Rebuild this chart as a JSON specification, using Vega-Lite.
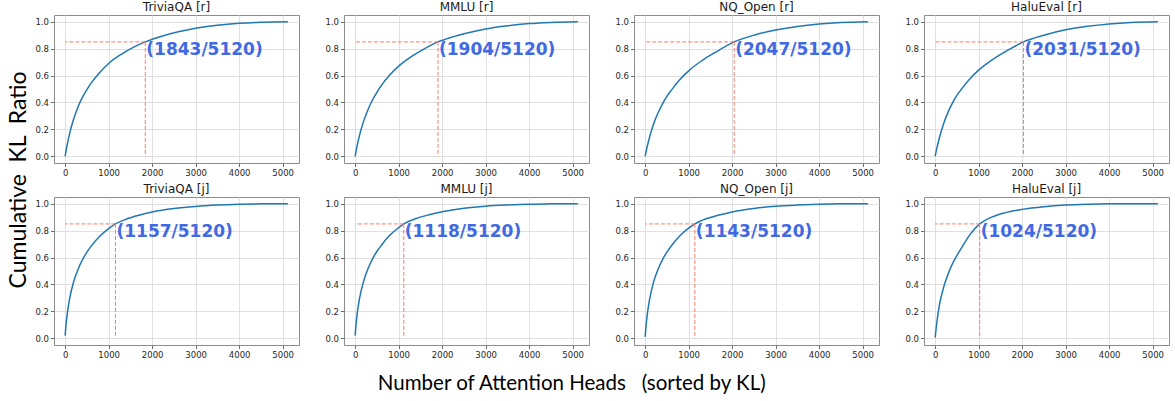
{
  "$schema": "https://vega.github.io/schema/vega-lite/v6.json",
  "background": "white",
  "padding": {"left": 7, "top": 0, "right": 0, "bottom": 5},
  "title": {"text": "Number of Attention Heads\u00a0\u00a0\u00a0(sorted by KL)", "orient": "bottom", "anchor": "middle", "font": "Lato", "fontSize": 20.5, "fontWeight": "normal", "color": "#000000", "offset": 14, "dx": -17},
  "config": {
    "view": {"stroke": "#8c8c8c", "strokeWidth": 1},
    "axis": {"domain": false, "grid": true, "gridColor": "#dcdcdc", "gridWidth": 0.9, "tickColor": "#444444", "tickSize": 3.5, "tickWidth": 0.8, "labelFont": "DejaVu Sans", "labelFontSize": 8.5, "labelColor": "#262626", "labelPadding": 2, "title": null, "tickCount": 12, "labelOverlap": false},
    "header": {"labelFont": "DejaVu Sans", "labelFontSize": 12, "labelColor": "#1a1a1a", "labelPadding": 1, "titleFont": "Lato", "titleFontSize": 23, "titleFontWeight": "normal", "titleColor": "#000000", "titleOrient": "left", "labelOrient": "top", "titlePadding": 23}
  },
  "data": {"values": [
    {"p": "TriviaQA [r]", "x": 0, "y": 0}, {"p": "TriviaQA [r]", "x": 50, "y": 0.09}, {"p": "TriviaQA [r]", "x": 100, "y": 0.165}, {"p": "TriviaQA [r]", "x": 200, "y": 0.28}, {"p": "TriviaQA [r]", "x": 300, "y": 0.37}, {"p": "TriviaQA [r]", "x": 400, "y": 0.44}, {"p": "TriviaQA [r]", "x": 500, "y": 0.495}, {"p": "TriviaQA [r]", "x": 600, "y": 0.545}, {"p": "TriviaQA [r]", "x": 800, "y": 0.625}, {"p": "TriviaQA [r]", "x": 1000, "y": 0.69}, {"p": "TriviaQA [r]", "x": 1300, "y": 0.76}, {"p": "TriviaQA [r]", "x": 1600, "y": 0.815}, {"p": "TriviaQA [r]", "x": 1843, "y": 0.85}, {"p": "TriviaQA [r]", "x": 2200, "y": 0.89}, {"p": "TriviaQA [r]", "x": 2600, "y": 0.925}, {"p": "TriviaQA [r]", "x": 3000, "y": 0.952}, {"p": "TriviaQA [r]", "x": 3500, "y": 0.974}, {"p": "TriviaQA [r]", "x": 4000, "y": 0.988}, {"p": "TriviaQA [r]", "x": 4500, "y": 0.996}, {"p": "TriviaQA [r]", "x": 5120, "y": 1.0},
    {"p": "MMLU [r]", "x": 0, "y": 0}, {"p": "MMLU [r]", "x": 50, "y": 0.085}, {"p": "MMLU [r]", "x": 100, "y": 0.155}, {"p": "MMLU [r]", "x": 200, "y": 0.265}, {"p": "MMLU [r]", "x": 300, "y": 0.35}, {"p": "MMLU [r]", "x": 400, "y": 0.42}, {"p": "MMLU [r]", "x": 500, "y": 0.475}, {"p": "MMLU [r]", "x": 600, "y": 0.525}, {"p": "MMLU [r]", "x": 800, "y": 0.605}, {"p": "MMLU [r]", "x": 1000, "y": 0.67}, {"p": "MMLU [r]", "x": 1300, "y": 0.743}, {"p": "MMLU [r]", "x": 1600, "y": 0.8}, {"p": "MMLU [r]", "x": 1904, "y": 0.85}, {"p": "MMLU [r]", "x": 2200, "y": 0.883}, {"p": "MMLU [r]", "x": 2600, "y": 0.918}, {"p": "MMLU [r]", "x": 3000, "y": 0.946}, {"p": "MMLU [r]", "x": 3500, "y": 0.97}, {"p": "MMLU [r]", "x": 4000, "y": 0.986}, {"p": "MMLU [r]", "x": 4500, "y": 0.995}, {"p": "MMLU [r]", "x": 5120, "y": 1.0},
    {"p": "NQ_Open [r]", "x": 0, "y": 0}, {"p": "NQ_Open [r]", "x": 50, "y": 0.075}, {"p": "NQ_Open [r]", "x": 100, "y": 0.14}, {"p": "NQ_Open [r]", "x": 200, "y": 0.245}, {"p": "NQ_Open [r]", "x": 300, "y": 0.325}, {"p": "NQ_Open [r]", "x": 400, "y": 0.39}, {"p": "NQ_Open [r]", "x": 500, "y": 0.445}, {"p": "NQ_Open [r]", "x": 600, "y": 0.49}, {"p": "NQ_Open [r]", "x": 800, "y": 0.57}, {"p": "NQ_Open [r]", "x": 1000, "y": 0.635}, {"p": "NQ_Open [r]", "x": 1300, "y": 0.71}, {"p": "NQ_Open [r]", "x": 1600, "y": 0.77}, {"p": "NQ_Open [r]", "x": 2047, "y": 0.85}, {"p": "NQ_Open [r]", "x": 2500, "y": 0.9}, {"p": "NQ_Open [r]", "x": 3000, "y": 0.938}, {"p": "NQ_Open [r]", "x": 3500, "y": 0.965}, {"p": "NQ_Open [r]", "x": 4000, "y": 0.983}, {"p": "NQ_Open [r]", "x": 4500, "y": 0.994}, {"p": "NQ_Open [r]", "x": 5120, "y": 1.0},
    {"p": "HaluEval [r]", "x": 0, "y": 0}, {"p": "HaluEval [r]", "x": 50, "y": 0.075}, {"p": "HaluEval [r]", "x": 100, "y": 0.14}, {"p": "HaluEval [r]", "x": 200, "y": 0.248}, {"p": "HaluEval [r]", "x": 300, "y": 0.33}, {"p": "HaluEval [r]", "x": 400, "y": 0.397}, {"p": "HaluEval [r]", "x": 500, "y": 0.452}, {"p": "HaluEval [r]", "x": 600, "y": 0.497}, {"p": "HaluEval [r]", "x": 800, "y": 0.577}, {"p": "HaluEval [r]", "x": 1000, "y": 0.64}, {"p": "HaluEval [r]", "x": 1300, "y": 0.715}, {"p": "HaluEval [r]", "x": 1600, "y": 0.775}, {"p": "HaluEval [r]", "x": 2031, "y": 0.85}, {"p": "HaluEval [r]", "x": 2500, "y": 0.9}, {"p": "HaluEval [r]", "x": 3000, "y": 0.94}, {"p": "HaluEval [r]", "x": 3500, "y": 0.966}, {"p": "HaluEval [r]", "x": 4000, "y": 0.984}, {"p": "HaluEval [r]", "x": 4500, "y": 0.995}, {"p": "HaluEval [r]", "x": 5120, "y": 1.0},
    {"p": "TriviaQA [j]", "x": 0, "y": 0.02}, {"p": "TriviaQA [j]", "x": 20, "y": 0.1}, {"p": "TriviaQA [j]", "x": 50, "y": 0.185}, {"p": "TriviaQA [j]", "x": 100, "y": 0.29}, {"p": "TriviaQA [j]", "x": 200, "y": 0.425}, {"p": "TriviaQA [j]", "x": 300, "y": 0.515}, {"p": "TriviaQA [j]", "x": 400, "y": 0.585}, {"p": "TriviaQA [j]", "x": 500, "y": 0.64}, {"p": "TriviaQA [j]", "x": 600, "y": 0.685}, {"p": "TriviaQA [j]", "x": 800, "y": 0.76}, {"p": "TriviaQA [j]", "x": 1000, "y": 0.815}, {"p": "TriviaQA [j]", "x": 1157, "y": 0.85}, {"p": "TriviaQA [j]", "x": 1400, "y": 0.885}, {"p": "TriviaQA [j]", "x": 1700, "y": 0.915}, {"p": "TriviaQA [j]", "x": 2000, "y": 0.938}, {"p": "TriviaQA [j]", "x": 2500, "y": 0.964}, {"p": "TriviaQA [j]", "x": 3000, "y": 0.98}, {"p": "TriviaQA [j]", "x": 3500, "y": 0.99}, {"p": "TriviaQA [j]", "x": 4000, "y": 0.996}, {"p": "TriviaQA [j]", "x": 4500, "y": 0.999}, {"p": "TriviaQA [j]", "x": 5120, "y": 1.0},
    {"p": "MMLU [j]", "x": 0, "y": 0.02}, {"p": "MMLU [j]", "x": 20, "y": 0.1}, {"p": "MMLU [j]", "x": 50, "y": 0.19}, {"p": "MMLU [j]", "x": 100, "y": 0.295}, {"p": "MMLU [j]", "x": 200, "y": 0.43}, {"p": "MMLU [j]", "x": 300, "y": 0.52}, {"p": "MMLU [j]", "x": 400, "y": 0.59}, {"p": "MMLU [j]", "x": 500, "y": 0.645}, {"p": "MMLU [j]", "x": 600, "y": 0.69}, {"p": "MMLU [j]", "x": 800, "y": 0.767}, {"p": "MMLU [j]", "x": 1000, "y": 0.822}, {"p": "MMLU [j]", "x": 1118, "y": 0.85}, {"p": "MMLU [j]", "x": 1400, "y": 0.89}, {"p": "MMLU [j]", "x": 1700, "y": 0.918}, {"p": "MMLU [j]", "x": 2000, "y": 0.94}, {"p": "MMLU [j]", "x": 2500, "y": 0.966}, {"p": "MMLU [j]", "x": 3000, "y": 0.982}, {"p": "MMLU [j]", "x": 3500, "y": 0.991}, {"p": "MMLU [j]", "x": 4000, "y": 0.997}, {"p": "MMLU [j]", "x": 4500, "y": 0.999}, {"p": "MMLU [j]", "x": 5120, "y": 1.0},
    {"p": "NQ_Open [j]", "x": 0, "y": 0.01}, {"p": "NQ_Open [j]", "x": 20, "y": 0.09}, {"p": "NQ_Open [j]", "x": 50, "y": 0.18}, {"p": "NQ_Open [j]", "x": 100, "y": 0.285}, {"p": "NQ_Open [j]", "x": 200, "y": 0.425}, {"p": "NQ_Open [j]", "x": 300, "y": 0.515}, {"p": "NQ_Open [j]", "x": 400, "y": 0.585}, {"p": "NQ_Open [j]", "x": 500, "y": 0.64}, {"p": "NQ_Open [j]", "x": 600, "y": 0.686}, {"p": "NQ_Open [j]", "x": 800, "y": 0.762}, {"p": "NQ_Open [j]", "x": 1000, "y": 0.818}, {"p": "NQ_Open [j]", "x": 1143, "y": 0.85}, {"p": "NQ_Open [j]", "x": 1400, "y": 0.888}, {"p": "NQ_Open [j]", "x": 1700, "y": 0.916}, {"p": "NQ_Open [j]", "x": 2000, "y": 0.939}, {"p": "NQ_Open [j]", "x": 2500, "y": 0.965}, {"p": "NQ_Open [j]", "x": 3000, "y": 0.981}, {"p": "NQ_Open [j]", "x": 3500, "y": 0.99}, {"p": "NQ_Open [j]", "x": 4000, "y": 0.996}, {"p": "NQ_Open [j]", "x": 4500, "y": 0.999}, {"p": "NQ_Open [j]", "x": 5120, "y": 1.0},
    {"p": "HaluEval [j]", "x": 0, "y": 0.005}, {"p": "HaluEval [j]", "x": 20, "y": 0.065}, {"p": "HaluEval [j]", "x": 50, "y": 0.145}, {"p": "HaluEval [j]", "x": 100, "y": 0.25}, {"p": "HaluEval [j]", "x": 200, "y": 0.385}, {"p": "HaluEval [j]", "x": 300, "y": 0.48}, {"p": "HaluEval [j]", "x": 400, "y": 0.555}, {"p": "HaluEval [j]", "x": 500, "y": 0.615}, {"p": "HaluEval [j]", "x": 600, "y": 0.668}, {"p": "HaluEval [j]", "x": 800, "y": 0.77}, {"p": "HaluEval [j]", "x": 1024, "y": 0.85}, {"p": "HaluEval [j]", "x": 1300, "y": 0.9}, {"p": "HaluEval [j]", "x": 1600, "y": 0.932}, {"p": "HaluEval [j]", "x": 2000, "y": 0.958}, {"p": "HaluEval [j]", "x": 2500, "y": 0.978}, {"p": "HaluEval [j]", "x": 3000, "y": 0.99}, {"p": "HaluEval [j]", "x": 3500, "y": 0.996}, {"p": "HaluEval [j]", "x": 4000, "y": 0.999}, {"p": "HaluEval [j]", "x": 5120, "y": 1.0},
    {"p": "TriviaQA [r]", "k": 1843, "label": "(1843/5120)"},
    {"p": "MMLU [r]", "k": 1904, "label": "(1904/5120)"},
    {"p": "NQ_Open [r]", "k": 2047, "label": "(2047/5120)"},
    {"p": "HaluEval [r]", "k": 2031, "label": "(2031/5120)"},
    {"p": "TriviaQA [j]", "k": 1157, "label": "(1157/5120)"},
    {"p": "MMLU [j]", "k": 1118, "label": "(1118/5120)"},
    {"p": "NQ_Open [j]", "k": 1143, "label": "(1143/5120)"},
    {"p": "HaluEval [j]", "k": 1024, "label": "(1024/5120)"}
  ]},
  "facet": {
    "field": "p", "type": "nominal",
    "sort": ["TriviaQA [r]", "MMLU [r]", "NQ_Open [r]", "HaluEval [r]", "TriviaQA [j]", "MMLU [j]", "NQ_Open [j]", "HaluEval [j]"],
    "title": "Cumulative\u00a0\u00a0KL\u00a0\u00a0Ratio"
  },
  "columns": 4,
  "spacing": {"row": 34, "column": 45},
  "bounds": "flush",
  "resolve": {"axis": {"x": "independent", "y": "independent"}},
  "spec": {
    "width": 245,
    "height": 148,
    "layer": [
      {
        "transform": [{"filter": "isValid(datum.x)"}],
        "mark": {"type": "line", "color": "#1f77b4", "strokeWidth": 1.5, "interpolate": "monotone"},
        "encoding": {
          "x": {"field": "x", "type": "quantitative", "scale": {"domain": [-256, 5376], "nice": false, "zero": false}, "axis": {"values": [0, 1000, 2000, 3000, 4000, 5000], "format": "d"}},
          "y": {"field": "y", "type": "quantitative", "scale": {"domain": [-0.05, 1.05], "nice": false, "zero": false}, "axis": {"values": [0, 0.2, 0.4, 0.6, 0.8, 1.0], "format": ".1f"}}
        }
      },
      {
        "transform": [{"filter": "isValid(datum.k)"}],
        "mark": {"type": "rule", "color": "#ff7a66", "strokeWidth": 1, "strokeDash": [4, 2]},
        "encoding": {
          "x": {"field": "k", "type": "quantitative"},
          "x2": {"datum": 0},
          "y": {"datum": 0.85, "type": "quantitative"}
        }
      },
      {
        "transform": [{"filter": "isValid(datum.k)"}],
        "mark": {"type": "rule", "color": "#ff7a66", "strokeWidth": 1, "strokeDash": [4, 2]},
        "encoding": {
          "x": {"field": "k", "type": "quantitative"},
          "y": {"datum": 0.85, "type": "quantitative"},
          "y2": {"datum": 0}
        }
      },
      {
        "transform": [{"filter": "isValid(datum.k)"}],
        "mark": {"type": "text", "align": "left", "baseline": "middle", "dx": 1, "font": "DejaVu Sans", "fontWeight": "bold", "fontSize": 17, "color": "#4169e1"},
        "encoding": {
          "x": {"field": "k", "type": "quantitative"},
          "y": {"datum": 0.79, "type": "quantitative"},
          "text": {"field": "label"}
        }
      }
    ]
  }
}
